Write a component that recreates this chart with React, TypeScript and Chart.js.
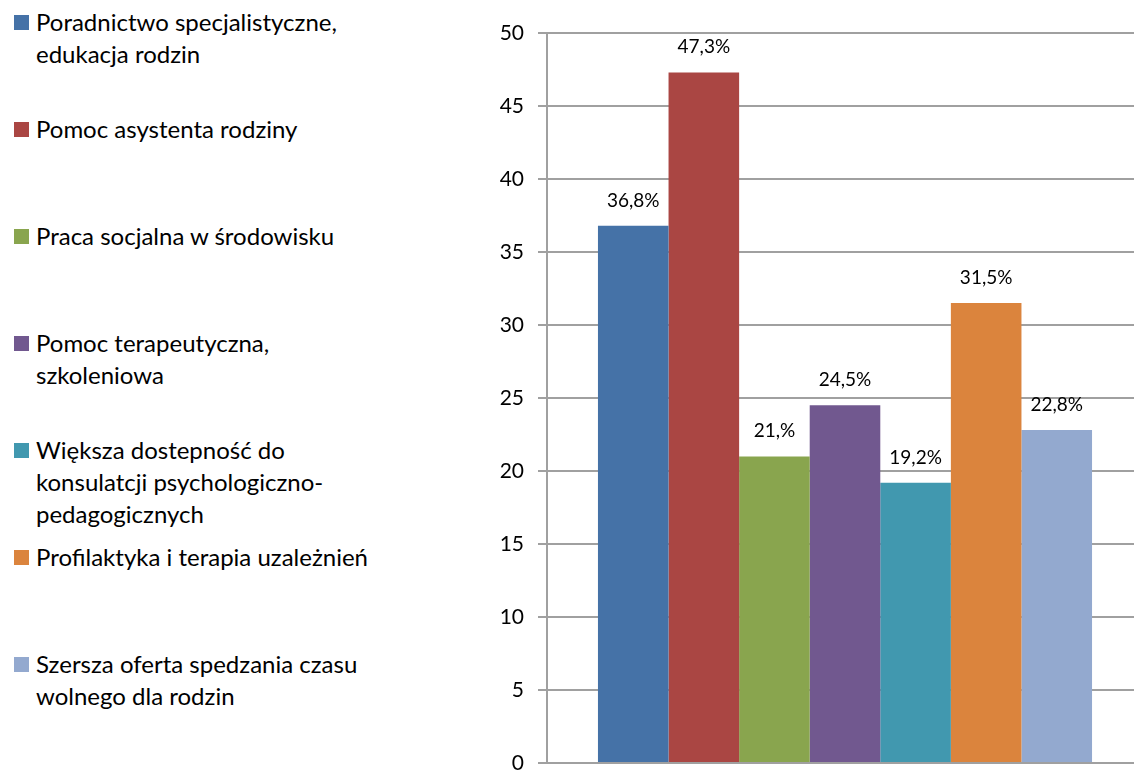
import React, { useEffect, useRef } from "react";
import { Chart, registerables } from "chart.js";

Chart.register(...registerables);

const seriesNames = [
  "Poradnictwo specjalistyczne,\nedukacja rodzin",
  "Pomoc asystenta rodziny",
  "Praca socjalna w środowisku",
  "Pomoc terapeutyczna,\nszkoleniowa",
  "Większa dostepność do\nkonsulatcji psychologiczno-\npedagogicznych",
  "Profilaktyka i terapia uzależnień",
  "Szersza oferta spedzania czasu\nwolnego dla rodzin",
];
const seriesValues = [36.8, 47.3, 21.0, 24.5, 19.2, 31.5, 22.8];
const valueLabels = ["36,8%", "47,3%", "21,%", "24,5%", "19,2%", "31,5%", "22,8%"];
const seriesColors = ["#4572A7", "#AA4643", "#89A54E", "#71588F", "#4198AF", "#DB843D", "#93A9CF"];
const categories = [""];
const yMin = 0;
const yMax = 50;
const yStep = 5;

const FONT = "Lato, 'Open Sans', sans-serif";

const valueLabelPlugin = {
  id: "valueLabels",
  afterDatasetsDraw(chart: any) {
    const ctx = chart.ctx;
    ctx.save();
    ctx.fillStyle = "#000";
    ctx.font = `19px ${FONT}`;
    ctx.textAlign = "center";
    ctx.textBaseline = "alphabetic";
    chart.data.datasets.forEach((_ds: any, i: number) => {
      const meta = chart.getDatasetMeta(i);
      const el = meta.data[0];
      if (!el) return;
      ctx.fillText(valueLabels[i], el.x, el.y - 19);
    });
    ctx.restore();
  },
};

export default function App() {
  const canvasRef = useRef<HTMLCanvasElement | null>(null);

  useEffect(() => {
    if (!canvasRef.current) return;
    const chart = new Chart(canvasRef.current, {
      type: "bar",
      data: {
        labels: categories,
        datasets: seriesNames.map((name, i) => ({
          label: name,
          data: [seriesValues[i]],
          backgroundColor: seriesColors[i],
          borderWidth: 0,
          categoryPercentage: 0.829,
          barPercentage: 1,
        })),
      },
      options: {
        responsive: false,
        animation: false,
        devicePixelRatio: 1,
        layout: { padding: { top: 33, bottom: 27, right: 7, left: 0 } },
        plugins: {
          legend: { display: false },
          tooltip: { enabled: false },
        },
        scales: {
          x: { display: false },
          y: {
            min: yMin,
            max: yMax,
            ticks: {
              stepSize: yStep,
              color: "#000",
              font: { family: FONT, size: 21 },
              padding: 14,
            },
            grid: { color: "#a0a0a0", lineWidth: 2, tickLength: 9 },
            border: { color: "#a0a0a0", width: 2 },
            afterFit: (s: any) => {
              s.width = 107;
            },
          },
        },
      },
      plugins: [valueLabelPlugin],
    } as any);
    return () => chart.destroy();
  }, []);

  return (
    <div
      style={{
        position: "fixed",
        left: 0,
        top: 0,
        width: 1134,
        height: 771,
        overflow: "hidden",
        background: "#fff",
        fontFamily: FONT,
      }}
    >
      {seriesNames.map((name, i) => (
        <div
          key={i}
          style={{
            position: "absolute",
            left: 14,
            top: 6 + 107 * i,
            display: "flex",
            alignItems: "flex-start",
          }}
        >
          <div
            style={{
              width: 15,
              height: 15,
              marginTop: 9,
              background: seriesColors[i],
              flex: "none",
            }}
          />
          <div
            style={{
              marginLeft: 7,
              fontSize: 24,
              lineHeight: "32px",
              color: "#000",
              whiteSpace: "pre",
            }}
          >
            {name}
          </div>
        </div>
      ))}
      <canvas
        ref={canvasRef}
        width={710}
        height={790}
        style={{ position: "absolute", left: 440, top: 0 }}
      />
    </div>
  );
}
